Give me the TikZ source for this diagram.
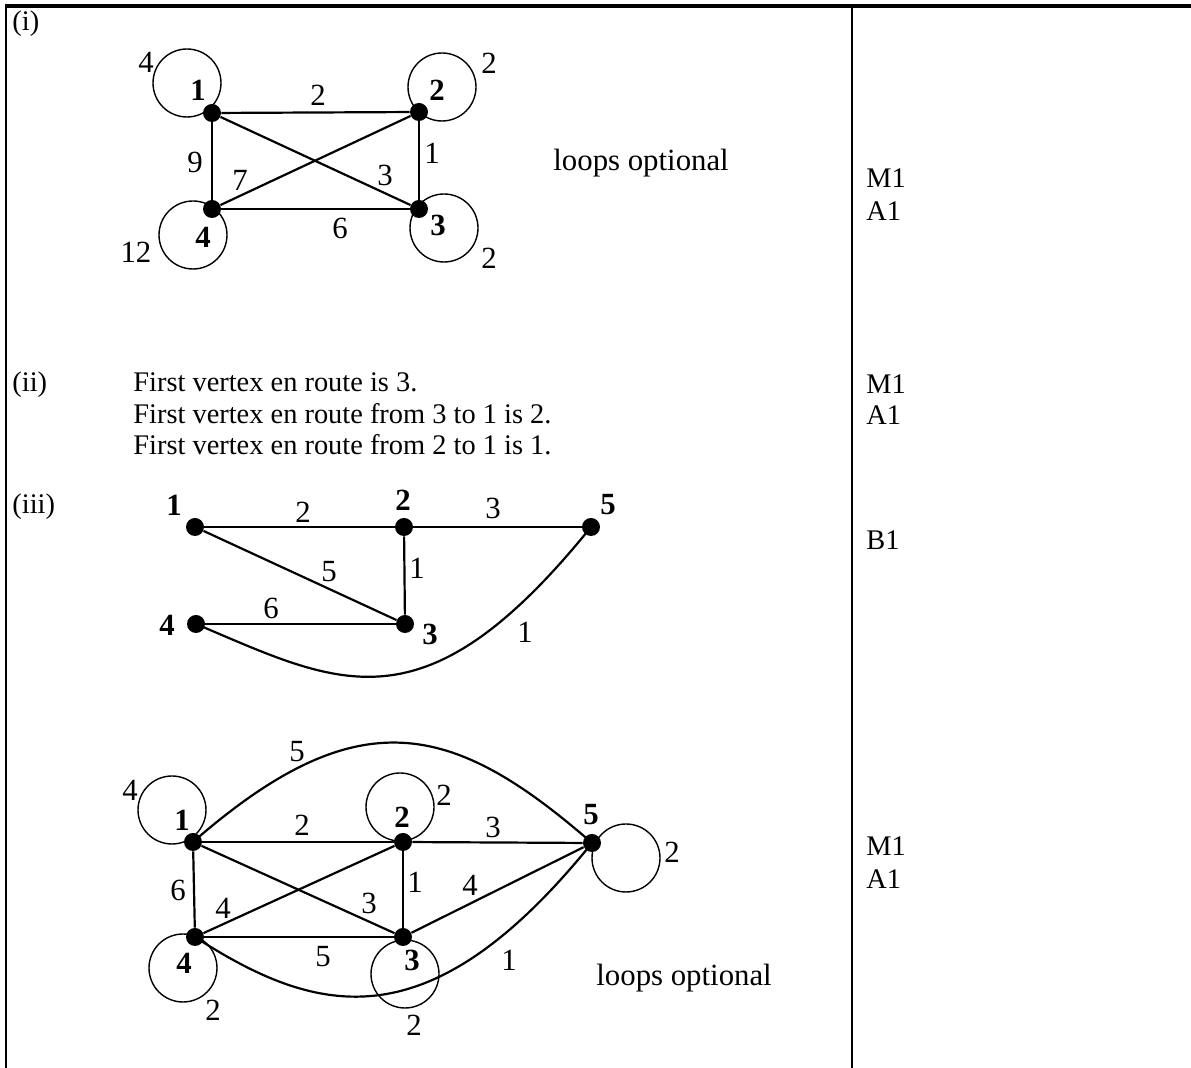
\documentclass[tikz,border=0pt]{standalone}
\usepackage{fontspec}
\setmainfont{Liberation Serif}
\begin{document}
\begin{tikzpicture}[x=0.5pt,y=-0.5pt,
  font=\fontsize{14.2}{17}\selectfont,
  dot/.style={circle,fill=black,inner sep=0pt,minimum size=9pt},
  loopc/.style={circle,draw,line width=0.7pt,inner sep=0pt,minimum size=34pt},
  edge/.style={line width=1.1pt},
  lab/.style={inner sep=0pt,font=\fontsize{15.4}{18}\selectfont},
  vlab/.style={inner sep=0pt,font=\fontsize{15.4}{18}\selectfont\bfseries},
  txt/.style={anchor=base west,inner sep=0pt},
  gtxt/.style={anchor=base west,inner sep=0pt,font=\fontsize{15.4}{18}\selectfont},
  rule/.style={line width=1.1pt}]
\useasboundingbox (0,0) rectangle (1191,1068);
% table
\coordinate (t0) at (5,6);
\coordinate (t1) at (1191,6);
\coordinate (b0) at (6,1068);
\coordinate (m0) at (852,6);
\coordinate (m1) at (852,1068);
\draw[line width=1.6pt] (t0) -- (t1);
\draw[rule] (6,6) -- (b0);
\draw[rule] (m0) -- (m1);

% ---------- (i)
\node[txt] (pi) at (12,31) {(i)};
\node[loopc] (aL1) at (187,83) {};
\node[loopc] (aL2) at (442,87) {};
\node[loopc] (aL3) at (444,228) {};
\node[loopc] (aL4) at (193,235) {};
\node[dot] (a1) at (212,113) {};
\node[dot] (a2) at (419,112) {};
\node[dot] (a3) at (419,209) {};
\node[dot] (a4) at (212,209) {};
\draw[edge] (a1) -- (a2);
\draw[edge] (a2) -- (a3);
\draw[edge] (a3) -- (a4);
\draw[edge] (a4) -- (a1);
\draw[edge] (a1) -- (a3);
\draw[edge] (a2) -- (a4);
\node[lab] (al1) at (146,62) {4};
\node[lab] (al2) at (489,63) {2};
\node[lab] (al3) at (489,258) {2};
\node[lab] (al4) at (136,252) {12};
\node[vlab] (an1) at (198,90) {1};
\node[vlab] (an2) at (437,90) {2};
\node[vlab] (an3) at (438,225) {3};
\node[vlab] (an4) at (203,237) {4};
\node[lab] (ae12) at (318,95) {2};
\node[lab] (ae23) at (432,153) {1};
\node[lab] (ae14) at (195,162) {9};
\node[lab] (ae24) at (240,180) {7};
\node[lab] (ae13) at (385,175) {3};
\node[lab] (ae34) at (340,228) {6};
\node[gtxt] (aopt) at (553,171) {loops optional};
\node[txt] (am1) at (866,188) {M1};
\node[txt] (aa1) at (866,221) {A1};

% ---------- (ii)
\node[txt] (pii) at (12,392) {(ii)};
\node[txt] (l1) at (133,392) {First vertex en route is 3.};
\node[txt] (l2) at (133,424) {First vertex en route from 3 to 1 is 2.};
\node[txt] (l3) at (133,455) {First vertex en route from 2 to 1 is 1.};
\node[txt] (bm1) at (866,394) {M1};
\node[txt] (ba1) at (866,425) {A1};

% ---------- (iii)
\node[txt] (piii) at (12,514) {(iii)};
\node[dot] (c1) at (195,527) {};
\node[dot] (c2) at (404,527) {};
\node[dot] (c5) at (591,527) {};
\node[dot] (c4) at (196,624) {};
\node[dot] (c3) at (405,624) {};
\draw[edge] (c1) -- (c2);
\draw[edge] (c2) -- (c5);
\draw[edge] (c1) -- (c3);
\draw[edge] (c2) -- (c3);
\draw[edge] (c4) -- (c3);
\draw[edge] (c4.center) .. controls (340,685) and (424,734) .. (c5.center);
\node[vlab] (cn1) at (174,505) {1};
\node[vlab] (cn2) at (403,500) {2};
\node[vlab] (cn5) at (608,505) {5};
\node[vlab] (cn4) at (167,625) {4};
\node[vlab] (cn3) at (430,634) {3};
\node[lab] (ce12) at (303,512) {2};
\node[lab] (ce25) at (493,508) {3};
\node[lab] (ce13) at (329,572) {5};
\node[lab] (ce23) at (417,568) {1};
\node[lab] (ce43) at (271,608) {6};
\node[lab] (ce45) at (525,632) {1};
\node[txt] (cb1) at (866,550) {B1};

% ---------- final graph
\node[loopc] (dL1) at (172,810) {};
\node[loopc] (dL2) at (400,807) {};
\node[loopc] (dL5) at (626,858) {};
\node[loopc] (dL4) at (183,968) {};
\node[loopc] (dL3) at (405,974) {};
\node[dot] (d1) at (193,842) {};
\node[dot] (d2) at (403,842) {};
\node[dot] (d5) at (592,843) {};
\node[dot] (d4) at (195,937) {};
\node[dot] (d3) at (403,937) {};
\draw[edge] (d1) -- (d2);
\draw[edge] (d2) -- (d5);
\draw[edge] (d1) -- (d4);
\draw[edge] (d1) -- (d3);
\draw[edge] (d2) -- (d4);
\draw[edge] (d2) -- (d3);
\draw[edge] (d4) -- (d3);
\draw[edge] (d3) -- (d5);
\draw[edge] (d1.center) .. controls (358,698) and (452,721) .. (d5.center);
\draw[edge] (d4.center) .. controls (320,1018) and (431,1042) .. (d5.center);
\node[lab] (dl1) at (130,790) {4};
\node[lab] (dl2) at (444,795) {2};
\node[lab] (dl5) at (672,852) {2};
\node[lab] (dl4) at (213,1010) {2};
\node[lab] (dl3) at (414,1025) {2};
\node[vlab] (dn1) at (182,820) {1};
\node[vlab] (dn2) at (402,817) {2};
\node[vlab] (dn5) at (591,815) {5};
\node[vlab] (dn4) at (184,963) {4};
\node[vlab] (dn3) at (412,960) {3};
\node[lab] (de15) at (297,752) {5};
\node[lab] (de12) at (302,825) {2};
\node[lab] (de25) at (493,827) {3};
\node[lab] (de14) at (178,890) {6};
\node[lab] (de24) at (223,908) {4};
\node[lab] (de13) at (369,903) {3};
\node[lab] (de23) at (415,882) {1};
\node[lab] (de35) at (470,885) {4};
\node[lab] (de43) at (323,957) {5};
\node[lab] (de45) at (509,960) {1};
\node[gtxt] (dopt) at (596,986) {loops optional};
\node[txt] (dm1) at (866,856) {M1};
\node[txt] (da1) at (866,889) {A1};
\end{tikzpicture}
\end{document}
